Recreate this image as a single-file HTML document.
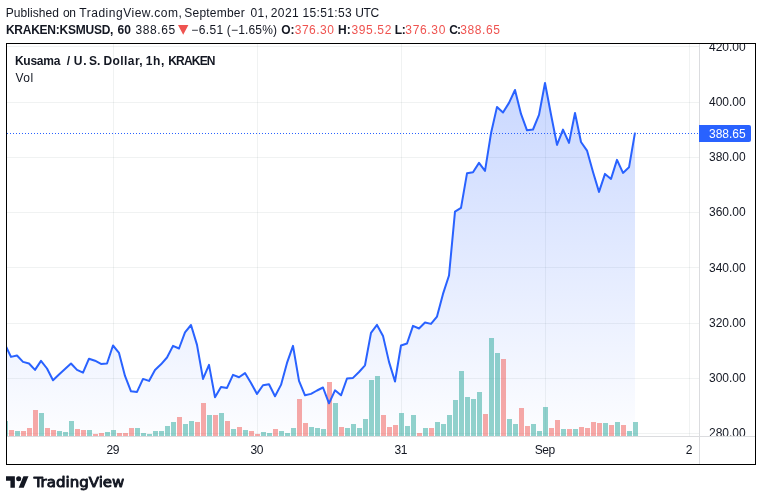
<!DOCTYPE html>
<html><head><meta charset="utf-8"><title>KSMUSD chart</title>
<style>
html,body{margin:0;padding:0;background:#fff;}
body{width:762px;height:501px;overflow:hidden;position:relative;font-family:"Liberation Sans",sans-serif;color:#131722;}
svg{position:absolute;left:0;top:0;display:block;}
svg text{font-family:"Liberation Sans",sans-serif;font-size:12px;fill:#131722;}
.hl{position:absolute;left:0;width:762px;height:14px;font-size:12px;line-height:14px;white-space:nowrap;}
.w{position:absolute;top:0;}
.b{font-weight:bold;}
.r{color:#ef5350;}
</style></head><body>
<svg width="762" height="501" viewBox="0 0 762 501">
<defs>
<linearGradient id="ag" gradientUnits="userSpaceOnUse" x1="0" y1="44" x2="0" y2="436">
<stop offset="0" stop-color="#2962ff" stop-opacity="0.28"/><stop offset="1" stop-color="#2962ff" stop-opacity="0.01"/>
</linearGradient>
<clipPath id="pane"><rect x="7" y="44" width="692" height="392"/></clipPath>
<clipPath id="axis"><rect x="700" y="44" width="55" height="392"/></clipPath>
</defs>
<g fill="#586c6c" fill-opacity="0.09" shape-rendering="crispEdges"><rect x="7" y="46" width="692" height="1"/><rect x="7" y="102" width="692" height="1"/><rect x="7" y="157" width="692" height="1"/><rect x="7" y="212" width="692" height="1"/><rect x="7" y="267" width="692" height="1"/><rect x="7" y="323" width="692" height="1"/><rect x="7" y="378" width="692" height="1"/><rect x="7" y="433" width="692" height="1"/><rect x="113" y="44" width="1" height="392"/><rect x="257" y="44" width="1" height="392"/><rect x="401" y="44" width="1" height="392"/><rect x="545" y="44" width="1" height="392"/><rect x="689" y="44" width="1" height="392"/></g>
<g clip-path="url(#pane)">
<path d="M5.0 344.5 L11.0 356.9 L17.0 355.5 L23.0 361.9 L29.0 363.5 L35.0 369.9 L41.0 360.9 L47.0 368.5 L53.0 380.3 L59.0 374.5 L65.0 369.1 L71.0 363.5 L77.0 369.9 L83.0 372.7 L89.0 358.7 L95.0 360.7 L101.0 363.9 L107.0 363.5 L113.0 345.5 L119.0 352.9 L125.0 375.9 L131.0 391.3 L137.0 391.9 L143.0 378.9 L149.0 380.9 L155.0 369.9 L161.0 364.3 L167.0 357.5 L173.0 345.9 L179.0 348.5 L185.0 332.4 L191.0 325.0 L197.0 344.9 L203.0 378.9 L209.0 364.9 L215.0 397.3 L221.0 386.9 L227.0 387.9 L233.0 374.9 L239.0 377.3 L245.0 373.1 L251.0 382.9 L257.0 393.9 L263.0 385.3 L269.0 384.3 L275.0 396.3 L281.0 384.9 L287.0 362.9 L293.0 345.9 L299.0 380.9 L305.0 395.3 L311.0 393.9 L317.0 390.5 L323.0 387.5 L329.0 403.3 L335.0 390.3 L341.0 395.3 L347.0 378.5 L353.0 377.9 L359.0 372.0 L365.0 365.3 L371.0 332.9 L377.0 324.9 L383.0 335.9 L389.0 361.9 L395.0 381.5 L401.0 345.5 L407.0 343.5 L413.0 325.9 L419.0 328.5 L425.0 322.5 L431.0 323.9 L437.0 316.6 L443.0 293.9 L449.0 275.5 L455.0 211.7 L461.0 207.9 L467.0 173.3 L473.0 172.3 L479.0 162.9 L485.0 170.9 L491.0 133.3 L497.0 106.9 L503.0 112.5 L509.0 102.9 L515.0 90.0 L521.0 113.9 L527.0 130.3 L533.0 129.5 L539.0 114.9 L545.0 83.0 L551.0 114.5 L557.0 144.9 L563.0 129.6 L569.0 142.9 L575.0 113.0 L581.0 142.0 L587.0 150.6 L593.0 172.0 L599.0 191.9 L605.0 173.9 L611.0 178.9 L617.0 159.9 L623.0 172.9 L629.0 167.3 L635.0 132.6 L635.0 436 L5.0 436 Z" fill="url(#ag)"/>
<g fill="#26a69a" fill-opacity="0.5" shape-rendering="crispEdges"><rect x="3" y="421" width="5" height="15"/><rect x="15" y="431" width="5" height="5"/><rect x="39" y="413" width="5" height="23"/><rect x="57" y="431" width="5" height="5"/><rect x="63" y="432" width="5" height="4"/><rect x="69" y="421" width="5" height="15"/><rect x="87" y="430" width="5" height="6"/><rect x="105" y="432" width="5" height="4"/><rect x="111" y="430" width="5" height="6"/><rect x="135" y="428" width="5" height="8"/><rect x="141" y="433" width="5" height="3"/><rect x="147" y="434" width="5" height="2"/><rect x="153" y="431" width="5" height="5"/><rect x="159" y="431" width="5" height="5"/><rect x="165" y="426" width="5" height="10"/><rect x="171" y="422" width="5" height="14"/><rect x="183" y="424" width="5" height="12"/><rect x="189" y="421" width="5" height="15"/><rect x="207" y="415" width="5" height="21"/><rect x="219" y="413" width="5" height="23"/><rect x="231" y="429" width="5" height="7"/><rect x="243" y="430" width="5" height="6"/><rect x="261" y="432" width="5" height="4"/><rect x="267" y="433" width="5" height="3"/><rect x="279" y="431" width="5" height="5"/><rect x="285" y="433" width="5" height="3"/><rect x="291" y="428" width="5" height="8"/><rect x="309" y="427" width="5" height="9"/><rect x="315" y="428" width="5" height="8"/><rect x="321" y="429" width="5" height="7"/><rect x="333" y="403" width="5" height="33"/><rect x="345" y="428" width="5" height="8"/><rect x="351" y="424" width="5" height="12"/><rect x="357" y="428" width="5" height="8"/><rect x="363" y="419" width="5" height="17"/><rect x="369" y="380" width="5" height="56"/><rect x="375" y="376" width="5" height="60"/><rect x="399" y="413" width="5" height="23"/><rect x="405" y="426" width="5" height="10"/><rect x="411" y="415" width="5" height="21"/><rect x="423" y="428" width="5" height="8"/><rect x="435" y="422" width="5" height="14"/><rect x="441" y="424" width="5" height="12"/><rect x="447" y="415" width="5" height="21"/><rect x="453" y="400" width="5" height="36"/><rect x="459" y="371" width="5" height="65"/><rect x="465" y="397" width="5" height="39"/><rect x="471" y="399" width="5" height="37"/><rect x="477" y="392" width="5" height="44"/><rect x="489" y="338" width="5" height="98"/><rect x="495" y="353" width="5" height="83"/><rect x="507" y="419" width="5" height="17"/><rect x="513" y="424" width="5" height="12"/><rect x="531" y="424" width="5" height="12"/><rect x="537" y="431" width="5" height="5"/><rect x="543" y="407" width="5" height="29"/><rect x="561" y="429" width="5" height="7"/><rect x="573" y="429" width="5" height="7"/><rect x="603" y="423" width="5" height="13"/><rect x="615" y="422" width="5" height="14"/><rect x="627" y="431" width="5" height="5"/><rect x="633" y="422" width="5" height="14"/></g>
<g fill="#ef5350" fill-opacity="0.5" shape-rendering="crispEdges"><rect x="9" y="430" width="5" height="6"/><rect x="21" y="431" width="5" height="5"/><rect x="27" y="428" width="5" height="8"/><rect x="33" y="410" width="5" height="26"/><rect x="45" y="428" width="5" height="8"/><rect x="51" y="430" width="5" height="6"/><rect x="75" y="429" width="5" height="7"/><rect x="81" y="430" width="5" height="6"/><rect x="93" y="434" width="5" height="2"/><rect x="99" y="433" width="5" height="3"/><rect x="117" y="433" width="5" height="3"/><rect x="123" y="433" width="5" height="3"/><rect x="129" y="428" width="5" height="8"/><rect x="177" y="417" width="5" height="19"/><rect x="195" y="422" width="5" height="14"/><rect x="201" y="403" width="5" height="33"/><rect x="213" y="415" width="5" height="21"/><rect x="225" y="421" width="5" height="15"/><rect x="237" y="427" width="5" height="9"/><rect x="249" y="431" width="5" height="5"/><rect x="255" y="434" width="5" height="2"/><rect x="273" y="429" width="5" height="7"/><rect x="297" y="399" width="5" height="37"/><rect x="303" y="423" width="5" height="13"/><rect x="327" y="382" width="5" height="54"/><rect x="339" y="427" width="5" height="9"/><rect x="381" y="415" width="5" height="21"/><rect x="387" y="427" width="5" height="9"/><rect x="393" y="425" width="5" height="11"/><rect x="417" y="433" width="5" height="3"/><rect x="429" y="428" width="5" height="8"/><rect x="483" y="414" width="5" height="22"/><rect x="501" y="359" width="5" height="77"/><rect x="519" y="408" width="5" height="28"/><rect x="525" y="426" width="5" height="10"/><rect x="549" y="428" width="5" height="8"/><rect x="555" y="420" width="5" height="16"/><rect x="567" y="429" width="5" height="7"/><rect x="579" y="427" width="5" height="9"/><rect x="585" y="428" width="5" height="8"/><rect x="591" y="422" width="5" height="14"/><rect x="597" y="423" width="5" height="13"/><rect x="609" y="425" width="5" height="11"/><rect x="621" y="425" width="5" height="11"/></g>
<path d="M5.0 344.5 L11.0 356.9 L17.0 355.5 L23.0 361.9 L29.0 363.5 L35.0 369.9 L41.0 360.9 L47.0 368.5 L53.0 380.3 L59.0 374.5 L65.0 369.1 L71.0 363.5 L77.0 369.9 L83.0 372.7 L89.0 358.7 L95.0 360.7 L101.0 363.9 L107.0 363.5 L113.0 345.5 L119.0 352.9 L125.0 375.9 L131.0 391.3 L137.0 391.9 L143.0 378.9 L149.0 380.9 L155.0 369.9 L161.0 364.3 L167.0 357.5 L173.0 345.9 L179.0 348.5 L185.0 332.4 L191.0 325.0 L197.0 344.9 L203.0 378.9 L209.0 364.9 L215.0 397.3 L221.0 386.9 L227.0 387.9 L233.0 374.9 L239.0 377.3 L245.0 373.1 L251.0 382.9 L257.0 393.9 L263.0 385.3 L269.0 384.3 L275.0 396.3 L281.0 384.9 L287.0 362.9 L293.0 345.9 L299.0 380.9 L305.0 395.3 L311.0 393.9 L317.0 390.5 L323.0 387.5 L329.0 403.3 L335.0 390.3 L341.0 395.3 L347.0 378.5 L353.0 377.9 L359.0 372.0 L365.0 365.3 L371.0 332.9 L377.0 324.9 L383.0 335.9 L389.0 361.9 L395.0 381.5 L401.0 345.5 L407.0 343.5 L413.0 325.9 L419.0 328.5 L425.0 322.5 L431.0 323.9 L437.0 316.6 L443.0 293.9 L449.0 275.5 L455.0 211.7 L461.0 207.9 L467.0 173.3 L473.0 172.3 L479.0 162.9 L485.0 170.9 L491.0 133.3 L497.0 106.9 L503.0 112.5 L509.0 102.9 L515.0 90.0 L521.0 113.9 L527.0 130.3 L533.0 129.5 L539.0 114.9 L545.0 83.0 L551.0 114.5 L557.0 144.9 L563.0 129.6 L569.0 142.9 L575.0 113.0 L581.0 142.0 L587.0 150.6 L593.0 172.0 L599.0 191.9 L605.0 173.9 L611.0 178.9 L617.0 159.9 L623.0 172.9 L629.0 167.3 L635.0 132.6" fill="none" stroke="#2962ff" stroke-width="2" stroke-linejoin="round" stroke-linecap="butt"/>
<g fill="#2962ff" shape-rendering="crispEdges"><rect x="7" y="133" width="1" height="1"/><rect x="10" y="133" width="1" height="1"/><rect x="13" y="133" width="1" height="1"/><rect x="16" y="133" width="1" height="1"/><rect x="19" y="133" width="1" height="1"/><rect x="22" y="133" width="1" height="1"/><rect x="25" y="133" width="1" height="1"/><rect x="28" y="133" width="1" height="1"/><rect x="31" y="133" width="1" height="1"/><rect x="34" y="133" width="1" height="1"/><rect x="37" y="133" width="1" height="1"/><rect x="40" y="133" width="1" height="1"/><rect x="43" y="133" width="1" height="1"/><rect x="46" y="133" width="1" height="1"/><rect x="49" y="133" width="1" height="1"/><rect x="52" y="133" width="1" height="1"/><rect x="55" y="133" width="1" height="1"/><rect x="58" y="133" width="1" height="1"/><rect x="61" y="133" width="1" height="1"/><rect x="64" y="133" width="1" height="1"/><rect x="67" y="133" width="1" height="1"/><rect x="70" y="133" width="1" height="1"/><rect x="73" y="133" width="1" height="1"/><rect x="76" y="133" width="1" height="1"/><rect x="79" y="133" width="1" height="1"/><rect x="82" y="133" width="1" height="1"/><rect x="85" y="133" width="1" height="1"/><rect x="88" y="133" width="1" height="1"/><rect x="91" y="133" width="1" height="1"/><rect x="94" y="133" width="1" height="1"/><rect x="97" y="133" width="1" height="1"/><rect x="100" y="133" width="1" height="1"/><rect x="103" y="133" width="1" height="1"/><rect x="106" y="133" width="1" height="1"/><rect x="109" y="133" width="1" height="1"/><rect x="112" y="133" width="1" height="1"/><rect x="115" y="133" width="1" height="1"/><rect x="118" y="133" width="1" height="1"/><rect x="121" y="133" width="1" height="1"/><rect x="124" y="133" width="1" height="1"/><rect x="127" y="133" width="1" height="1"/><rect x="130" y="133" width="1" height="1"/><rect x="133" y="133" width="1" height="1"/><rect x="136" y="133" width="1" height="1"/><rect x="139" y="133" width="1" height="1"/><rect x="142" y="133" width="1" height="1"/><rect x="145" y="133" width="1" height="1"/><rect x="148" y="133" width="1" height="1"/><rect x="151" y="133" width="1" height="1"/><rect x="154" y="133" width="1" height="1"/><rect x="157" y="133" width="1" height="1"/><rect x="160" y="133" width="1" height="1"/><rect x="163" y="133" width="1" height="1"/><rect x="166" y="133" width="1" height="1"/><rect x="169" y="133" width="1" height="1"/><rect x="172" y="133" width="1" height="1"/><rect x="175" y="133" width="1" height="1"/><rect x="178" y="133" width="1" height="1"/><rect x="181" y="133" width="1" height="1"/><rect x="184" y="133" width="1" height="1"/><rect x="187" y="133" width="1" height="1"/><rect x="190" y="133" width="1" height="1"/><rect x="193" y="133" width="1" height="1"/><rect x="196" y="133" width="1" height="1"/><rect x="199" y="133" width="1" height="1"/><rect x="202" y="133" width="1" height="1"/><rect x="205" y="133" width="1" height="1"/><rect x="208" y="133" width="1" height="1"/><rect x="211" y="133" width="1" height="1"/><rect x="214" y="133" width="1" height="1"/><rect x="217" y="133" width="1" height="1"/><rect x="220" y="133" width="1" height="1"/><rect x="223" y="133" width="1" height="1"/><rect x="226" y="133" width="1" height="1"/><rect x="229" y="133" width="1" height="1"/><rect x="232" y="133" width="1" height="1"/><rect x="235" y="133" width="1" height="1"/><rect x="238" y="133" width="1" height="1"/><rect x="241" y="133" width="1" height="1"/><rect x="244" y="133" width="1" height="1"/><rect x="247" y="133" width="1" height="1"/><rect x="250" y="133" width="1" height="1"/><rect x="253" y="133" width="1" height="1"/><rect x="256" y="133" width="1" height="1"/><rect x="259" y="133" width="1" height="1"/><rect x="262" y="133" width="1" height="1"/><rect x="265" y="133" width="1" height="1"/><rect x="268" y="133" width="1" height="1"/><rect x="271" y="133" width="1" height="1"/><rect x="274" y="133" width="1" height="1"/><rect x="277" y="133" width="1" height="1"/><rect x="280" y="133" width="1" height="1"/><rect x="283" y="133" width="1" height="1"/><rect x="286" y="133" width="1" height="1"/><rect x="289" y="133" width="1" height="1"/><rect x="292" y="133" width="1" height="1"/><rect x="295" y="133" width="1" height="1"/><rect x="298" y="133" width="1" height="1"/><rect x="301" y="133" width="1" height="1"/><rect x="304" y="133" width="1" height="1"/><rect x="307" y="133" width="1" height="1"/><rect x="310" y="133" width="1" height="1"/><rect x="313" y="133" width="1" height="1"/><rect x="316" y="133" width="1" height="1"/><rect x="319" y="133" width="1" height="1"/><rect x="322" y="133" width="1" height="1"/><rect x="325" y="133" width="1" height="1"/><rect x="328" y="133" width="1" height="1"/><rect x="331" y="133" width="1" height="1"/><rect x="334" y="133" width="1" height="1"/><rect x="337" y="133" width="1" height="1"/><rect x="340" y="133" width="1" height="1"/><rect x="343" y="133" width="1" height="1"/><rect x="346" y="133" width="1" height="1"/><rect x="349" y="133" width="1" height="1"/><rect x="352" y="133" width="1" height="1"/><rect x="355" y="133" width="1" height="1"/><rect x="358" y="133" width="1" height="1"/><rect x="361" y="133" width="1" height="1"/><rect x="364" y="133" width="1" height="1"/><rect x="367" y="133" width="1" height="1"/><rect x="370" y="133" width="1" height="1"/><rect x="373" y="133" width="1" height="1"/><rect x="376" y="133" width="1" height="1"/><rect x="379" y="133" width="1" height="1"/><rect x="382" y="133" width="1" height="1"/><rect x="385" y="133" width="1" height="1"/><rect x="388" y="133" width="1" height="1"/><rect x="391" y="133" width="1" height="1"/><rect x="394" y="133" width="1" height="1"/><rect x="397" y="133" width="1" height="1"/><rect x="400" y="133" width="1" height="1"/><rect x="403" y="133" width="1" height="1"/><rect x="406" y="133" width="1" height="1"/><rect x="409" y="133" width="1" height="1"/><rect x="412" y="133" width="1" height="1"/><rect x="415" y="133" width="1" height="1"/><rect x="418" y="133" width="1" height="1"/><rect x="421" y="133" width="1" height="1"/><rect x="424" y="133" width="1" height="1"/><rect x="427" y="133" width="1" height="1"/><rect x="430" y="133" width="1" height="1"/><rect x="433" y="133" width="1" height="1"/><rect x="436" y="133" width="1" height="1"/><rect x="439" y="133" width="1" height="1"/><rect x="442" y="133" width="1" height="1"/><rect x="445" y="133" width="1" height="1"/><rect x="448" y="133" width="1" height="1"/><rect x="451" y="133" width="1" height="1"/><rect x="454" y="133" width="1" height="1"/><rect x="457" y="133" width="1" height="1"/><rect x="460" y="133" width="1" height="1"/><rect x="463" y="133" width="1" height="1"/><rect x="466" y="133" width="1" height="1"/><rect x="469" y="133" width="1" height="1"/><rect x="472" y="133" width="1" height="1"/><rect x="475" y="133" width="1" height="1"/><rect x="478" y="133" width="1" height="1"/><rect x="481" y="133" width="1" height="1"/><rect x="484" y="133" width="1" height="1"/><rect x="487" y="133" width="1" height="1"/><rect x="490" y="133" width="1" height="1"/><rect x="493" y="133" width="1" height="1"/><rect x="496" y="133" width="1" height="1"/><rect x="499" y="133" width="1" height="1"/><rect x="502" y="133" width="1" height="1"/><rect x="505" y="133" width="1" height="1"/><rect x="508" y="133" width="1" height="1"/><rect x="511" y="133" width="1" height="1"/><rect x="514" y="133" width="1" height="1"/><rect x="517" y="133" width="1" height="1"/><rect x="520" y="133" width="1" height="1"/><rect x="523" y="133" width="1" height="1"/><rect x="526" y="133" width="1" height="1"/><rect x="529" y="133" width="1" height="1"/><rect x="532" y="133" width="1" height="1"/><rect x="535" y="133" width="1" height="1"/><rect x="538" y="133" width="1" height="1"/><rect x="541" y="133" width="1" height="1"/><rect x="544" y="133" width="1" height="1"/><rect x="547" y="133" width="1" height="1"/><rect x="550" y="133" width="1" height="1"/><rect x="553" y="133" width="1" height="1"/><rect x="556" y="133" width="1" height="1"/><rect x="559" y="133" width="1" height="1"/><rect x="562" y="133" width="1" height="1"/><rect x="565" y="133" width="1" height="1"/><rect x="568" y="133" width="1" height="1"/><rect x="571" y="133" width="1" height="1"/><rect x="574" y="133" width="1" height="1"/><rect x="577" y="133" width="1" height="1"/><rect x="580" y="133" width="1" height="1"/><rect x="583" y="133" width="1" height="1"/><rect x="586" y="133" width="1" height="1"/><rect x="589" y="133" width="1" height="1"/><rect x="592" y="133" width="1" height="1"/><rect x="595" y="133" width="1" height="1"/><rect x="598" y="133" width="1" height="1"/><rect x="601" y="133" width="1" height="1"/><rect x="604" y="133" width="1" height="1"/><rect x="607" y="133" width="1" height="1"/><rect x="610" y="133" width="1" height="1"/><rect x="613" y="133" width="1" height="1"/><rect x="616" y="133" width="1" height="1"/><rect x="619" y="133" width="1" height="1"/><rect x="622" y="133" width="1" height="1"/><rect x="625" y="133" width="1" height="1"/><rect x="628" y="133" width="1" height="1"/><rect x="631" y="133" width="1" height="1"/><rect x="634" y="133" width="1" height="1"/><rect x="637" y="133" width="1" height="1"/><rect x="640" y="133" width="1" height="1"/><rect x="643" y="133" width="1" height="1"/><rect x="646" y="133" width="1" height="1"/><rect x="649" y="133" width="1" height="1"/><rect x="652" y="133" width="1" height="1"/><rect x="655" y="133" width="1" height="1"/><rect x="658" y="133" width="1" height="1"/><rect x="661" y="133" width="1" height="1"/><rect x="664" y="133" width="1" height="1"/><rect x="667" y="133" width="1" height="1"/><rect x="670" y="133" width="1" height="1"/><rect x="673" y="133" width="1" height="1"/><rect x="676" y="133" width="1" height="1"/><rect x="679" y="133" width="1" height="1"/><rect x="682" y="133" width="1" height="1"/><rect x="685" y="133" width="1" height="1"/><rect x="688" y="133" width="1" height="1"/><rect x="691" y="133" width="1" height="1"/><rect x="694" y="133" width="1" height="1"/><rect x="697" y="133" width="1" height="1"/></g>
</g>
<g fill="#dbdcdf" shape-rendering="crispEdges"><rect x="699" y="44" width="1" height="420"/><rect x="7" y="436" width="748" height="1"/></g>
<g clip-path="url(#axis)"><text x="709" y="51">420.00</text><text x="709" y="106">400.00</text><text x="709" y="161">380.00</text><text x="709" y="216">360.00</text><text x="709" y="271.5">340.00</text><text x="709" y="327">320.00</text><text x="709" y="382">300.00</text><text x="709" y="437">280.00</text></g>
<path d="M699 125h50a2 2 0 0 1 2 2v13a2 2 0 0 1-2 2h-50z" fill="#2962ff"/>
<text x="709" y="137.8" style="fill:#fff">388.65</text>
<text x="113" y="454" text-anchor="middle" textLength="12.800">29</text><text x="257" y="454" text-anchor="middle" textLength="12.800">30</text><text x="401" y="454" text-anchor="middle" textLength="12.800">31</text><text x="545" y="454" text-anchor="middle" textLength="20.300">Sep</text><text x="689" y="454" text-anchor="middle">2</text>
<rect x="6.5" y="43.5" width="749" height="421" fill="none" stroke="#000" stroke-width="1" shape-rendering="crispEdges"/>
<g transform="translate(6 473.77) scale(0.633)" fill="#131722"><path d="M14 22H7V11H0V4h14v18z"/><circle cx="20" cy="8" r="4"/><path d="M28 22h-8l7.500-18h8L28 22z"/></g>
<text x="33.650" y="487.100" style="font-family:'DejaVu Sans',sans-serif;font-size:14.200px;fill:#131722;stroke:#131722;stroke-width:0.900px;stroke-linejoin:round" textLength="90.700" lengthAdjust="spacingAndGlyphs">TradingView</text>
<path d="M178 25h10.400l-5.200 9.700z" fill="#ef5350"/>
</svg>
<div class="hl" id="l1" style="top:6px"><span class="w" style="left:5.8px;letter-spacing:0.06px">Published</span> <span class="w" style="left:63.0px;letter-spacing:-0.40px">on</span> <span class="w" style="left:79.3px;letter-spacing:0.52px">TradingView.com,</span> <span class="w" style="left:184.3px;letter-spacing:0.21px">September</span> <span class="w" style="left:250.5px;letter-spacing:0.45px">01,</span> <span class="w" style="left:270.7px;letter-spacing:0.47px">2021</span> <span class="w" style="left:302.4px;letter-spacing:0.37px">15:51:53</span> <span class="w" style="left:355.2px;letter-spacing:-0.40px">UTC</span> </div>
<div class="hl" id="l2" style="top:23px"><span class="w b" style="left:5.9px;letter-spacing:-0.24px">KRAKEN:KSMUSD,</span> <span class="w b" style="left:117.5px;letter-spacing:0.20px">60</span> <span class="w" style="left:135.4px;letter-spacing:0.60px">388.65</span> <span class="w" style="left:191.3px;letter-spacing:0.38px">−6.51</span> <span class="w" style="left:226.8px;letter-spacing:0.17px">(−1.65%)</span> <span class="w b" style="left:281.2px;letter-spacing:0.00px">O:</span> <span class="w r" style="left:294.7px;letter-spacing:0.52px">376.30</span> <span class="w b" style="left:338.0px;letter-spacing:0.20px">H:</span> <span class="w r" style="left:351.5px;letter-spacing:0.62px">395.52</span> <span class="w b" style="left:394.8px;letter-spacing:-0.50px">L:</span> <span class="w r" style="left:405.3px;letter-spacing:0.68px">376.30</span> <span class="w b" style="left:449.2px;letter-spacing:-0.80px">C:</span> <span class="w r" style="left:460.3px;letter-spacing:0.58px">388.65</span> </div>
<div class="hl" id="ttl" style="top:54px"><span class="w b" style="left:14.9px;letter-spacing:-0.24px">Kusama</span> <span class="w b" style="left:66.8px;letter-spacing:0.00px">/</span> <span class="w b" style="left:73.7px;letter-spacing:0.80px">U.</span> <span class="w b" style="left:89.0px;letter-spacing:0.10px">S.</span> <span class="w b" style="left:103.4px;letter-spacing:0.43px">Dollar,</span> <span class="w b" style="left:145.8px;letter-spacing:0.65px">1h,</span> <span class="w b" style="left:168.2px;letter-spacing:-0.80px">KRAKEN</span> </div>
<div class="hl" id="vol" style="top:71px"><span class="w" style="left:15.5px;letter-spacing:0.50px">Vol</span> </div>
</body></html>
